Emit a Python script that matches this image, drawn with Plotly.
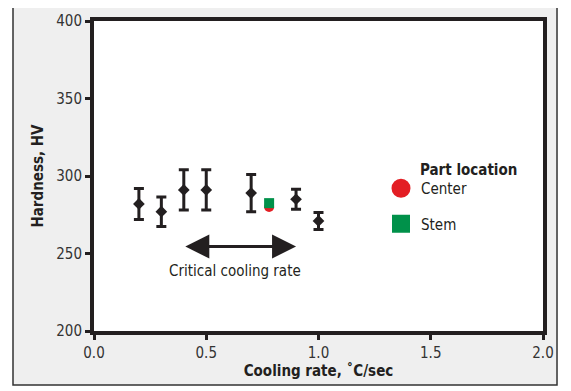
import plotly.graph_objects as go

# Data
cooling_rate = [0.2, 0.3, 0.4, 0.5, 0.7, 0.9, 1.0]
hardness = [282, 277, 291, 291, 289, 285, 271]
hardness_err = [10, 9.5, 13, 13, 12, 6.5, 5.5]

center_rate = [0.78]
center_hv = [280]
stem_rate = [0.78]
stem_hv = [282.5]

critical_range = [0.4, 0.9]
critical_hv = 254.5

x_ticks = [0.0, 0.5, 1.0, 1.5, 2.0]
x_tick_labels = ["0.0", "0.5", "1.0", "1.5", "2.0"]
y_ticks = [200, 250, 300, 350, 400]

FONT = "Liberation Sans Narrow, DejaVu Sans Condensed, Arial Narrow, sans-serif"
INK = "#231f20"
RED = "#e31e24"
GREEN = "#00914a"

OFF = 8  # browser default body margin

fig = go.Figure()

fig.add_trace(go.Scatter(
    x=cooling_rate, y=hardness, mode="markers",
    marker=dict(symbol="diamond", size=9, color=INK),
    error_y=dict(type="data", array=hardness_err, color=INK, thickness=3, width=5),
    showlegend=False,
))
fig.add_trace(go.Scatter(
    x=center_rate, y=center_hv, mode="markers",
    marker=dict(symbol="circle", size=10, color=RED), showlegend=False,
))
fig.add_trace(go.Scatter(
    x=stem_rate, y=stem_hv, mode="markers",
    marker=dict(symbol="square", size=10, color=GREEN), showlegend=False,
))
# legend entries
fig.add_trace(go.Scatter(
    x=[None], y=[None], mode="markers", name="Center", legendgroup="c",
    marker=dict(symbol="circle", size=16, color=RED, line=dict(color=RED, width=3)),
))
fig.add_trace(go.Scatter(
    x=[None], y=[None], mode="markers", name="Stem", legendgroup="s",
    marker=dict(symbol="square", size=16, color=GREEN, line=dict(color=GREEN, width=2)),
))

# outer panel
fig.add_shape(type="rect", xref="paper", yref="paper",
              x0=-0.1804, x1=1.0312, y0=-0.1742, y1=1.0484,
              fillcolor="#efefef", line=dict(color="#333333", width=1.5), layer="below")
fig.add_shape(type="rect", xref="paper", yref="paper",
              x0=0, x1=1, y0=0, y1=1,
              fillcolor="white", line=dict(width=0), layer="below")

# double arrow
fig.add_annotation(x=critical_range[1], y=critical_hv, ax=critical_range[0], ay=critical_hv,
                   xref="x", yref="y", axref="x", ayref="y", text="",
                   showarrow=True, arrowside="end+start", arrowhead=2,
                   arrowsize=1.6, arrowwidth=3, arrowcolor=INK)
fig.add_annotation(x=sum(critical_range) / 2 - 0.02, y=238.7, xref="x", yref="y",
                   text="Critical cooling rate", showarrow=False,
                   font=dict(family=FONT, size=15, color=INK))
fig.add_annotation(x=(418 - 94) / 449, y=(331 - 170) / 310, xref="paper", yref="paper",
                   xanchor="left", yanchor="middle",
                   text="<b>Part location</b>", showarrow=False,
                   font=dict(family=FONT, size=15, color=INK))

axis_common = dict(
    showgrid=False, zeroline=False, showline=True, mirror=True, automargin=False,
    linecolor=INK, linewidth=4, ticks="outside", ticklen=5, tickwidth=3,
    tickcolor=INK, tickfont=dict(family=FONT, size=15, color="#333333"),
)

fig.update_layout(
    width=571, height=391,
    margin=dict(l=94 - OFF, r=571 - 543 + OFF, t=21 - OFF, b=391 - 331 + OFF, autoexpand=False),
    paper_bgcolor="white", plot_bgcolor="white",
    font=dict(family=FONT, color=INK),
    xaxis=dict(range=[0, 2], tickvals=x_ticks, ticktext=x_tick_labels,
               title=dict(text="<b>Cooling rate, ˚C/sec</b>", font=dict(family=FONT, size=15, color=INK), standoff=5),
               **axis_common),
    yaxis=dict(range=[200, 400], tickvals=y_ticks,
               title=dict(text="<b>Hardness, HV</b>", font=dict(family=FONT, size=15, color=INK), standoff=10),
               **axis_common),
    legend=dict(x=(381 - 94) / 449, y=(331 - 172) / 310, xanchor="left", yanchor="top",
                traceorder="grouped", tracegroupgap=13,
                font=dict(family=FONT, size=15, color=INK),
                bgcolor="rgba(0,0,0,0)", borderwidth=0),
)

fig.write_html("out.html")
